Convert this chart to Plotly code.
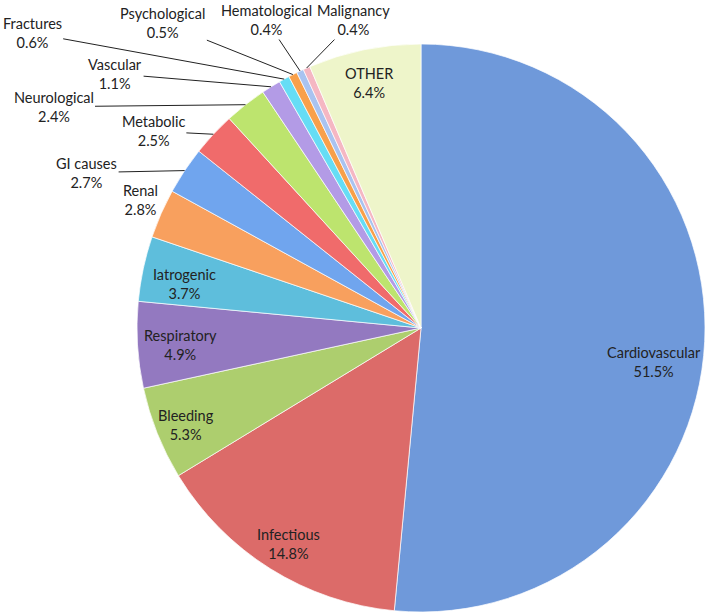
# Causes of death pie chart

import math
import plotly.graph_objects as go

W, H = 709, 614

causes = ['Cardiovascular', 'Infectious', 'Bleeding', 'Respiratory', 'Iatrogenic',
          'Renal', 'GI causes', 'Metabolic', 'Neurological', 'Vascular',
          'Fractures', 'Psychological', 'Hematological', 'Malignancy', 'OTHER']
shares = [51.5, 14.8, 5.3, 4.9, 3.7,
          2.8, 2.7, 2.5, 2.4, 1.1,
          0.6, 0.5, 0.4, 0.4, 6.4]

colors = ['#6F99DA', '#DC6B69', '#ADCE6E', '#9379C0', '#5EBEDC',
          '#F8A05E', '#70A5EE', '#F06B6B', '#BDE46E', '#B39BE6',
          '#66DDF5', '#F8A04A', '#A9C3F0', '#F5B7C3', '#EEF5CA']

# pie centre and radius in pixels
cx, cy, R = 421, 328, 284

# label placement: ('in', radius fraction, dx, dy) or ('out', ax, ay) relative to slice edge
label_style = {
    'Cardiovascular': ('in', 0.822, 0, 23),
    'Infectious': ('in', 0.89, 2, 2),
    'Bleeding': ('in', 0.89, 0, 3),
    'Respiratory': ('in', 0.85, 0, 3),
    'Iatrogenic': ('in', 0.85, 0, 6),
    'OTHER': ('in', 0.886, -2, 2),
    'Renal': ('in', 1.09, 3, -3),
    'GI causes': ('out', -98, 2),
    'Metabolic': ('out', -60, -3),
    'Neurological': ('out', -192, 2),
    'Vascular': ('out', -156, -13),
    'Fractures': ('out', -252, -46),
    'Psychological': ('out', -130, -52),
    'Hematological': ('out', -34, -51),
    'Malignancy': ('out', 47, -48),
}

font = dict(family='Lato, Open Sans, sans-serif', size=14.5, color='#222222')

fig = go.Figure(go.Pie(
    labels=causes,
    values=shares,
    sort=False,
    direction='clockwise',
    rotation=0,
    textinfo='none',
    hoverinfo='skip',
    marker=dict(colors=colors, line=dict(color='rgba(255,255,255,0.7)', width=1)),
    domain=dict(x=[(cx - R) / W, (cx + R) / W], y=[1 - (cy + R) / H, 1 - (cy - R) / H]),
    showlegend=False,
))

total = sum(shares)
cum = 0.0
annotations = []
for name, v in zip(causes, shares):
    mid = (cum + v / 2) / total * 2 * math.pi
    cum += v
    text = f'{name}<br>{v:.1f}%'
    st = label_style[name]
    if st[0] == 'in':
        r = R * st[1]
        px = cx + r * math.sin(mid) + st[2]
        py = cy - r * math.cos(mid) + st[3]
        annotations.append(dict(x=px / W, y=1 - py / H, xref='paper', yref='paper',
                                xanchor='center', yanchor='middle',
                                text=text, showarrow=False, font=font, align='center'))
    else:
        px = cx + R * math.sin(mid)
        py = cy - R * math.cos(mid)
        annotations.append(dict(x=px / W, y=1 - py / H, xref='paper', yref='paper',
                                text=text, showarrow=True, arrowhead=0, arrowwidth=1,
                                arrowcolor='#222222', standoff=0, ax=st[1], ay=st[2],
                                font=font, align='center'))

fig.update_layout(
    width=W, height=H,
    margin=dict(l=0, r=0, t=0, b=0),
    paper_bgcolor='white',
    plot_bgcolor='white',
    annotations=annotations,
)

# drop the default page margin so the figure sits at the window corner
fig.write_html('out.html', config={'displayModeBar': False},
               post_script="document.body.style.margin='0';")
